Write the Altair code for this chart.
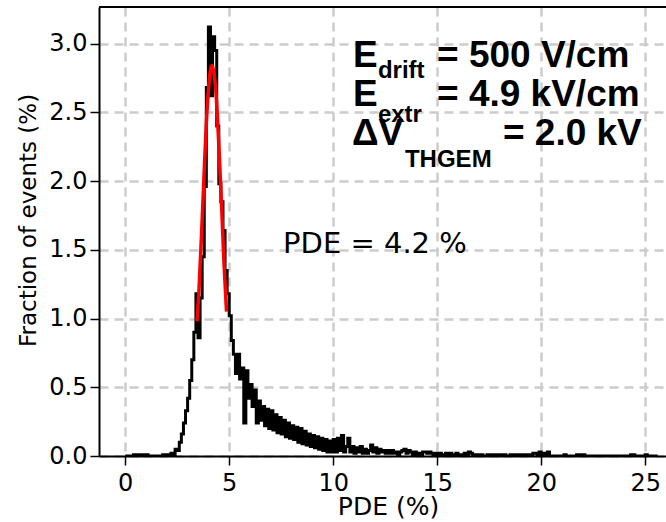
import altair as alt
import pandas as pd

# Histogram: fraction of events (%) per 0.1-wide PDE bin, starting at 0
bin_width = 0.1
counts = [
    0, 0, 0, 0, 0.01, 0.01, 0, 0.01, 0.01, 0,                      # 0
    0.01, 0, 0, 0, 0, 0, 0, 0, 0.01, 0.01,                         # 1
    0, 0.01, 0.02, 0.01, 0.05, 0.04, 0.10, 0.16, 0.24, 0.33,       # 2
    0.42, 0.55, 0.70, 0.90, 1.18, 0.86, 1.15, 1.45, 1.96, 2.68,    # 3
    3.12, 2.62, 3.05, 2.95, 2.40, 1.98, 1.85, 1.64, 1.35, 1.18,    # 4
    1.02, 0.84, 0.74, 0.60, 0.74, 0.56, 0.64, 0.24, 0.62, 0.42,    # 5
    0.52, 0.36, 0.48, 0.24, 0.40, 0.26, 0.36, 0.22, 0.34, 0.20,    # 6
    0.33, 0.19, 0.30, 0.17, 0.28, 0.16, 0.26, 0.14, 0.24, 0.13,    # 7
    0.22, 0.12, 0.21, 0.10, 0.20, 0.09, 0.18, 0.08, 0.16, 0.07,    # 8
    0.15, 0.06, 0.14, 0.05, 0.13, 0.04, 0.12, 0.03, 0.11, 0.03,    # 9
    0.12, 0.03, 0.13, 0.04, 0.15, 0.03, 0.07, 0.13, 0.03, 0.07,    # 10
    0.02, 0.06, 0.03, 0.07, 0.02, 0.05, 0.02, 0.04, 0.08, 0.03,    # 11
    0.06, 0.02, 0.05, 0.03, 0.04, 0.02, 0.04, 0.02, 0.04, 0.02,    # 12
    0.03, 0.01, 0.03, 0.04, 0.05, 0.02, 0.04, 0.03, 0.01, 0.03,    # 13
    0.01, 0.02, 0.01, 0.03, 0.03, 0.02, 0.03, 0.02, 0.01, 0.02,    # 14
    0.01, 0.02, 0.01, 0.01, 0.02, 0.01, 0.02, 0.01, 0, 0.02,       # 15
    0.01, 0.01, 0, 0.02, 0.01, 0.03, 0.02, 0, 0.01, 0,             # 16
    0.01, 0.01, 0, 0, 0.01, 0.01, 0.01, 0, 0.01, 0.01,             # 17
    0.01, 0.01, 0.01, 0, 0, 0.01, 0.01, 0.01, 0, 0.01,             # 18
    0.01, 0.01, 0, 0.01, 0.01, 0, 0.02, 0.02, 0.01, 0.03,          # 19
    0.01, 0.02, 0.01, 0.03, 0, 0, 0, 0, 0, 0,                      # 20
    0, 0.01, 0, 0, 0, 0, 0, 0.01, 0, 0.01,                         # 21
    0.01, 0, 0, 0, 0, 0, 0, 0, 0, 0,                               # 22
    0, 0, 0, 0, 0, 0, 0, 0, 0, 0,                                  # 23
    0, 0, 0, 0.01, 0.01, 0, 0, 0, 0, 0,                            # 24
    0.01, 0, 0, 0, 0, 0,                                           # 25
]

# Gaussian fit curve
fit_x = [3.45, 3.55, 3.7, 3.8, 3.9, 4.0, 4.08, 4.17, 4.26, 4.35, 4.45, 4.55, 4.65, 4.75, 4.87]
fit_y = [0.98, 1.22, 1.72, 2.08, 2.42, 2.66, 2.79, 2.84, 2.79, 2.67, 2.42, 2.10, 1.76, 1.40, 1.05]

x_ticks = [0, 5, 10, 15, 20, 25]
y_ticks = [0.0, 0.5, 1.0, 1.5, 2.0, 2.5, 3.0]
x_domain = [-1.26, 26.0]
y_domain = [0, 3.266]

# annotation texts (positions in data units)
ann_big = pd.DataFrame({
    "x": [10.95, 14.99, 10.95, 14.99, 10.9, 18.16],
    "y": [2.826, 2.826, 2.549, 2.549, 2.26, 2.26],
    "t": ["E", "= 500 V/cm", "E", "= 4.9 kV/cm", "ΔV", "= 2.0 kV"],
})
ann_sub = pd.DataFrame({
    "x": [12.15, 12.15, 13.45],
    "y": [2.747, 2.428, 2.10],
    "t": ["drift", "extr", "THGEM"],
})
ann_pde = pd.DataFrame({"x": [7.59], "y": [1.475], "t": ["PDE = 4.2 %"]})

edges = [round(i * bin_width, 2) for i in range(len(counts) + 1)]
hist = pd.DataFrame({"x": edges, "y": counts + [counts[-1]]})
fit = pd.DataFrame({"x": fit_x, "y": fit_y})

W, H = 567, 449

xs = alt.Scale(domain=x_domain, nice=False, zero=False)
ys = alt.Scale(domain=y_domain, nice=False, zero=False)

x_axis = alt.Axis(values=x_ticks, title="PDE (%)", format="d",
                  gridDash=[9, 6], gridColor="#cccccc", gridWidth=2.5,
                  titleY=58, titleX=289, titleBaseline="alphabetic",
                  titleFontSize=25, labelPadding=6)
y_axis = alt.Axis(values=y_ticks, title="Fraction of events (%)", format=".1f",
                  gridDash=[9, 6], gridColor="#cccccc", gridWidth=2.5,
                  titlePadding=8, labelPadding=3, titleY=213)

hist_line = alt.Chart(hist).mark_line(
    interpolate="step-after", color="black", strokeWidth=3, clip=True
).encode(
    x=alt.X("x:Q", scale=xs, axis=x_axis),
    y=alt.Y("y:Q", scale=ys, axis=y_axis),
)

fit_line = alt.Chart(fit).mark_line(
    color="#ff0000", strokeWidth=3.5, interpolate="monotone"
).encode(x=alt.X("x:Q", scale=xs), y=alt.Y("y:Q", scale=ys))

top_rule = alt.Chart(hist).mark_rule(color="black", strokeWidth=2).encode(
    y=alt.value(0), x=alt.value(0), x2=alt.value(W + 5)
)

big = alt.Chart(ann_big).mark_text(
    font="Liberation Sans", fontWeight="bold", fontSize=37, align="left",
    baseline="alphabetic", color="black"
).encode(x=alt.X("x:Q", scale=xs), y=alt.Y("y:Q", scale=ys), text="t:N")

sub = alt.Chart(ann_sub).mark_text(
    font="Liberation Sans", fontWeight="bold", fontSize=24, align="left",
    baseline="alphabetic", color="black"
).encode(x=alt.X("x:Q", scale=xs), y=alt.Y("y:Q", scale=ys), text="t:N")

pde = alt.Chart(ann_pde).mark_text(
    font="DejaVu Sans", fontSize=29, align="left", baseline="alphabetic", color="black"
).encode(x=alt.X("x:Q", scale=xs), y=alt.Y("y:Q", scale=ys), text="t:N")

chart = alt.layer(hist_line, fit_line, top_rule, big, sub, pde).properties(
    width=W, height=H,
    autosize=alt.AutoSizeParams(type="none"),
    padding={"left": 99, "top": 7, "right": 0, "bottom": 66},
    background="white",
).configure_view(stroke=None).configure_axis(
    labelFont="DejaVu Sans", labelFontSize=24, labelColor="black",
    titleFont="DejaVu Sans", titleFontSize=23, titleFontWeight="normal", titleColor="black",
    domainColor="black", domainWidth=2, tickColor="black", tickWidth=1.5, tickSize=9,
)

chart.save("out.html", embed_options={"renderer": "svg", "actions": False})
